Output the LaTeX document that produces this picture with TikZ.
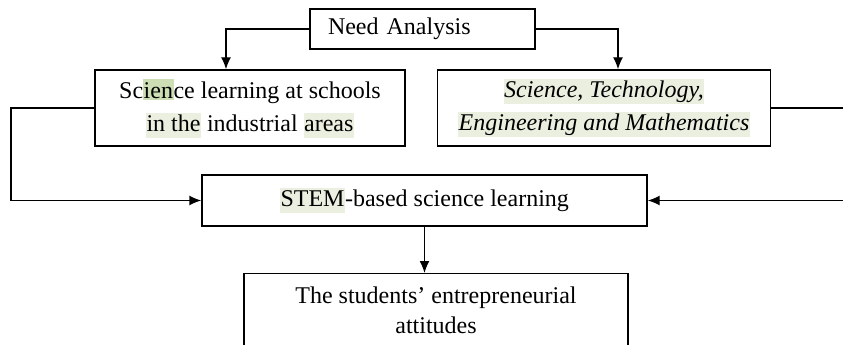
\documentclass[tikz,border=0pt]{standalone}
\usepackage{fontspec}
\setmainfont{Liberation Serif}
\usepackage{xcolor}
\usetikzlibrary{arrows.meta,positioning}

\definecolor{hllight}{RGB}{234,239,224}
\definecolor{hldark}{RGB}{205,222,180}
\newcommand{\hlstrut}{\rule[-6pt]{0pt}{24pt}}
\newcommand{\hl}[1]{{\setlength\fboxsep{0.5pt}\colorbox{hllight}{\hlstrut #1}}}
\newcommand{\hld}[1]{{\setlength\fboxsep{0.5pt}\colorbox{hldark}{\rule[-1pt]{0pt}{20pt}#1}}}

\tikzset{
    box/.style={draw, line width=1.4pt, align=center, font=\fontsize{24}{33}\selectfont, inner sep=0pt},
    arr/.style={line width=1.4pt, -{Latex[length=12pt, width=10pt]}},
}

\begin{document}
\begin{tikzpicture}[x=1pt, y=-1pt]
                    \useasboundingbox (0, 0) rectangle (843, 345);

                    \node[box, minimum width=225pt, minimum height=40pt, text width=189pt, align=left] (need) at (422.5, 29) {Need Analysis};
                    \node[box, minimum width=310pt, minimum height=76pt] (school) at (250, 108) {Sc\hld{ien}ce learning at schools\\\hl{in the} industrial \hl{areas}};
                    \node[box, minimum width=333pt, minimum height=76pt] (stem) at (604, 108) {\hl{\itshape Science, Technology,}\\\hl{\itshape Engineering and Mathematics}};
                    \node[box, minimum width=445pt, minimum height=51pt] (base) at (424.5, 200.5) {\hl{STEM}-based science learning};
                    \node[box, minimum width=384pt, anchor=north, font=\fontsize{24}{30}\selectfont] (att) at (436, 273) {\rule{0pt}{30pt}The students’ entrepreneurial\\attitudes\rule[-40pt]{0pt}{40pt}};

                    \coordinate (lft) at (11, 200.5);
                    \coordinate (rgt) at (860, 200.5);

                    \draw[arr] (need.west) -| ([xshift=-24pt]school.north);
                    \draw[arr] (need.east) -| ([xshift=14pt]stem.north);
                    \draw[arr] (base.south) -- (base.south |- att.north);
                    \draw[arr] (school.west) -| (lft) -- (base.west);
                    \draw[arr] (stem.east) -| (rgt) -- (base.east);
                \end{tikzpicture}
\end{document}
